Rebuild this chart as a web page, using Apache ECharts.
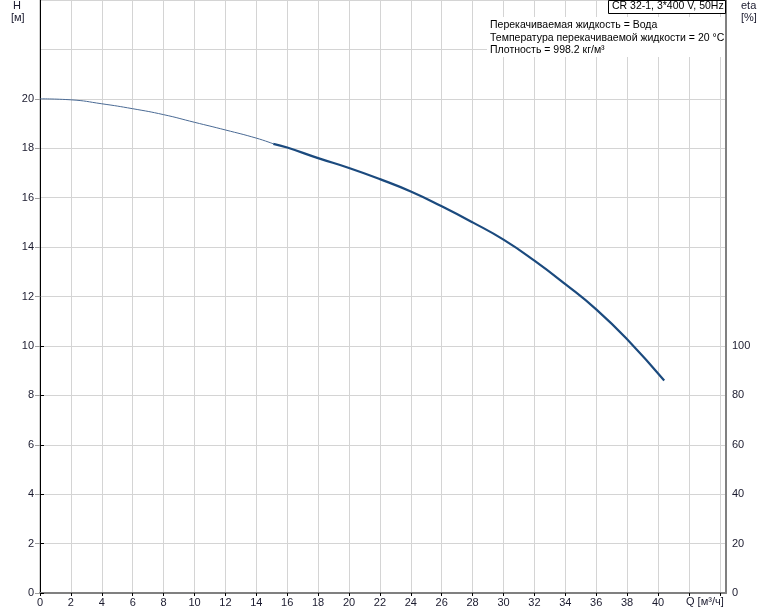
<!DOCTYPE html>
<html><head><meta charset="utf-8">
<script src="https://cdn.jsdelivr.net/npm/echarts@6/dist/echarts.min.js"></script>
<style>html,body{margin:0;padding:0;background:#fff}#c{width:774px;height:611px}</style>
</head><body><div id="c"></div>
<script>
// Q [m3/h], H [m]
var qThin = [0, 2, 4, 6, 8, 10, 12, 14, 15.1];
var hThin = [20.0, 19.96, 19.8, 19.6, 19.36, 19.05, 18.74, 18.41, 18.18];
var qThick = [15.1, 16, 18, 20, 22, 24, 26, 28, 30, 32, 34, 36, 38, 40.4];
var hThick = [18.18, 18.03, 17.6, 17.2, 16.75, 16.25, 15.65, 15.0, 14.3, 13.45, 12.5, 11.48, 10.27, 8.6];
var xLabelMax = 40;
var title = 'CR 32-1, 3*400 V, 50Hz';
var infoLines = ['Перекачиваемая жидкость = Вода', 'Температура перекачиваемой жидкости = 20 °C', 'Плотность = 998.2 кг/м³'];

function pairs(a, b) { return a.map(function (v, i) { return [v, b[i]]; }); }
var font = 'Liberation Sans, Arial, sans-serif';
var lblColor = '#1a1a2e';
var hiddenX = function (gi) {
  return {type: 'value', gridIndex: gi, min: 0, max: 44.4, show: false};
};
var chart = echarts.init(document.getElementById('c'), null, {renderer: 'canvas'});
chart.setOption({
  animation: false,
  grid: [
    {left: 40, right: 48, top: 0, bottom: 18, show: true, borderColor: '#a0a0a0', borderWidth: 1},
    {left: 40, right: 48, top: 99, bottom: 18},
    {left: 40, right: 48, top: 346, bottom: 18}
  ],
  xAxis: [{
    type: 'value', gridIndex: 0, min: 0, max: 44.4, interval: 2,
    axisLine: {onZero: false, lineStyle: {color: '#808080', width: 2}},
    axisTick: {show: true, length: 3, lineStyle: {color: '#000'}},
    axisLabel: {showMaxLabel: false, color: lblColor, fontSize: 11, fontFamily: font, margin: 4,
      formatter: function (v) { return v <= xLabelMax ? String(v) : ''; }},
    splitLine: {show: true, lineStyle: {color: '#d4d4d4', width: 1}}
  }, hiddenX(1), hiddenX(2)],
  yAxis: [{
    type: 'value', gridIndex: 0, min: 0, max: 24, interval: 2,
    axisLine: {show: true, onZero: false, lineStyle: {color: '#000', width: 1}},
    axisTick: {show: false}, axisLabel: {show: false},
    splitLine: {show: true, lineStyle: {color: '#d4d4d4', width: 1}}
  }, {
    type: 'value', gridIndex: 0, min: 0, max: 24, position: 'right',
    axisLine: {show: true, onZero: false, lineStyle: {color: '#808080', width: 2}},
    axisTick: {show: false}, axisLabel: {show: false}, splitLine: {show: false}
  }, {
    type: 'value', gridIndex: 1, min: 0, max: 20, interval: 2,
    axisLine: {show: false},
    axisTick: {show: true, length: 5, lineStyle: {color: '#a0a0a0'}},
    axisLabel: {color: lblColor, fontSize: 11, fontFamily: font, margin: 6},
    splitLine: {show: false}
  }, {
    type: 'value', gridIndex: 2, min: 0, max: 100, interval: 20, position: 'right',
    axisLine: {show: false},
    axisTick: {show: true, length: 4, lineStyle: {color: '#000'}},
    axisLabel: {color: lblColor, fontSize: 11, fontFamily: font, margin: 6},
    splitLine: {show: false}
  }],
  series: [{
    type: 'line', xAxisIndex: 0, yAxisIndex: 0, data: pairs(qThin, hThin), smooth: true, showSymbol: false,
    lineStyle: {color: '#4a6a94', width: 1}
  }, {
    type: 'line', xAxisIndex: 0, yAxisIndex: 0, data: pairs(qThick, hThick), smooth: true, showSymbol: false,
    lineStyle: {color: '#1b4a7e', width: 2.2}
  }],
  graphic: [
    {type: 'text', z: 100, left: 13, top: 0, style: {text: 'H', font: '11px ' + font, fill: lblColor}},
    {type: 'text', z: 100, left: 11, top: 12, style: {text: '[м]', font: '11px ' + font, fill: lblColor}},
    {type: 'text', z: 100, left: 741, top: 0, style: {text: 'eta', font: '11px ' + font, fill: lblColor}},
    {type: 'text', z: 100, left: 741, top: 12, style: {text: '[%]', font: '11px ' + font, fill: lblColor}},
    {type: 'text', z: 100, left: 686, top: 596, style: {text: 'Q [м³/ч]', font: '11px ' + font, fill: lblColor}},
    {type: 'rect', z: 100, shape: {x: 487, y: 17, width: 238, height: 40}, style: {fill: '#fff'}},
    {type: 'rect', z: 100, shape: {x: 608.5, y: 0.5, width: 117, height: 13}, style: {fill: '#fff', stroke: '#000', lineWidth: 1}},
    {type: 'text', z: 101, left: 612, top: 1, style: {text: title, font: '10.5px ' + font, fill: '#000'}},
    {type: 'text', z: 101, left: 490, top: 20, style: {text: infoLines[0], font: '10.5px ' + font, fill: '#000'}},
    {type: 'text', z: 101, left: 490, top: 33, style: {text: infoLines[1], font: '10.5px ' + font, fill: '#000'}},
    {type: 'text', z: 101, left: 490, top: 45, style: {text: infoLines[2], font: '10.5px ' + font, fill: '#000'}}
  ]
});
</script></body></html>
